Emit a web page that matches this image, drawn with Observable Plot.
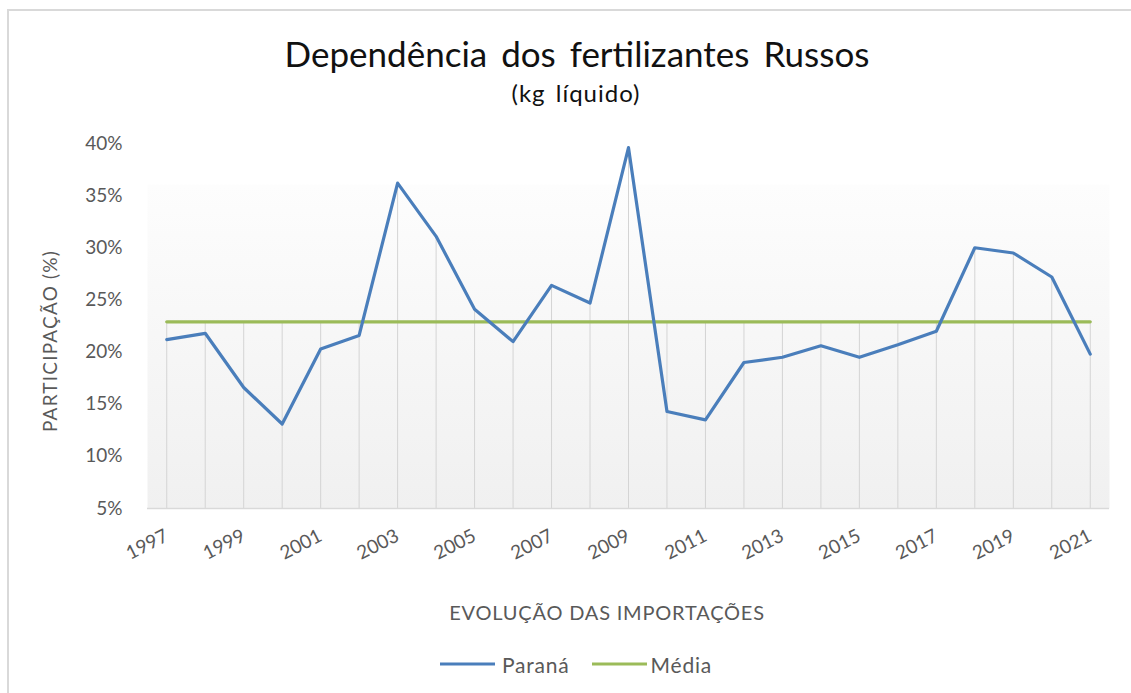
<!DOCTYPE html>
<html>
<head>
<meta charset="utf-8">
<script src="https://cdn.jsdelivr.net/npm/d3@7"></script>
<script src="https://cdn.jsdelivr.net/npm/@observablehq/plot@0.6"></script>
<style>
  html, body { margin: 0; padding: 0; background: #fff; }
  #page { position: relative; width: 1131px; height: 693px; overflow: hidden; font-family: Lato, "Noto Sans", sans-serif; }
  #border { position: absolute; left: 7px; top: 9px; width: 1140px; height: 700px; border: 2px solid #d9d9d9; box-sizing: border-box; }
  .t { position: absolute; white-space: nowrap; line-height: 1; }
  #title { left: 577px; transform: translateX(-50%); top: 36px; font-size: 35px; color: #111; word-spacing: 5px; }
  #subtitle { left: 576px; transform: translateX(-50%); top: 81px; font-size: 24px; color: #111; letter-spacing: 1px; word-spacing: 3px; }
  #ytitle { left: 49px; top: 341px; transform: translate(-50%, -50%) rotate(-90deg); font-size: 19px; color: #595959; letter-spacing: 1.2px; }
  #xtitle { left: 607px; top: 612px; transform: translate(-50%, -50%); font-size: 20px; color: #595959; letter-spacing: 0.8px; }
  #chart { position: absolute; left: 0; top: 125px; }
  #legend { position: absolute; top: 664px; left: 440px; transform: translateY(-50%); display: flex; align-items: center; font-size: 21px; color: #595959; letter-spacing: 0.8px; }
  .sw { display: inline-block; width: 55px; height: 3px; margin-right: 7px; }
</style>
</head>
<body>
<div id="page">
  <div id="border"></div>
  <div class="t" id="title">Dependência dos fertilizantes Russos</div>
  <div class="t" id="subtitle">(kg líquido)</div>
  <div class="t" id="ytitle">PARTICIPAÇÃO (%)</div>
  <div id="chart"></div>
  <div class="t" id="xtitle">EVOLUÇÃO DAS IMPORTAÇÕES</div>
  <div id="legend">
    <span class="sw" style="background:#4a7ebb"></span><span>Paraná</span>
    <span class="sw" style="background:#9bbb59; margin-left:22px; margin-right:4px"></span><span>Média</span>
  </div>
</div>
<script>
const years = [1997,1998,1999,2000,2001,2002,2003,2004,2005,2006,2007,2008,2009,2010,2011,2012,2013,2014,2015,2016,2017,2018,2019,2020,2021];
const parana = [21.2,21.8,16.6,13.1,20.3,21.6,36.2,31.1,24.1,21.0,26.4,24.7,39.6,14.3,13.5,19.0,19.5,20.6,19.5,20.7,22.0,30.0,29.5,27.2,19.8];
const media = [22.9,22.9,22.9,22.9,22.9,22.9,22.9,22.9,22.9,22.9,22.9,22.9,22.9,22.9,22.9,22.9,22.9,22.9,22.9,22.9,22.9,22.9,22.9,22.9,22.9];
const yTicks = [5,10,15,20,25,30,35,40];
const xTicks = [1997,1999,2001,2003,2005,2007,2009,2011,2013,2015,2017,2019,2021];

const rows = years.map((y, i) => ({year: y, parana: parana[i], media: media[i]}));

const chart = Plot.plot({
  width: 1131,
  height: 455,
  marginTop: 18,
  marginBottom: 72,
  marginLeft: 147,
  marginRight: 22,
  style: {fontFamily: "Lato, 'Noto Sans', sans-serif", fontSize: "19px", color: "#595959", overflow: "visible", background: "transparent"},
  x: {domain: [1996.5, 2021.5]},
  y: {domain: [5, 40]},
  marks: [
    Plot.frame({fill: "url(#bgGrad)", stroke: null}),
    Plot.ruleX(rows, {x: "year", y1: 5, y2: d => Math.max(d.parana, d.media), stroke: "#d4d4d4", strokeWidth: 1}),
    Plot.ruleY([5], {stroke: "#d9d9d9", strokeWidth: 1.5}),
    Plot.axisY({ticks: yTicks, tickFormat: d => d + "%", tickSize: 0, tickPadding: 25, label: null, fill: "#595959"}),
    Plot.axisX({ticks: xTicks, tickFormat: d => String(d), tickSize: 0, tickPadding: 26, tickRotate: -27, label: null, fill: "#595959"}),
    Plot.line(rows, {x: "year", y: "media", stroke: "#9bbb59", strokeWidth: 3.2}),
    Plot.line(rows, {x: "year", y: "parana", stroke: "#4a7ebb", strokeWidth: 3.2, strokeLinejoin: "round"})
  ]
});

d3.select(chart).insert("defs", ":first-child").html(
  '<linearGradient id="bgGrad" x1="0" y1="0" x2="0" y2="1">' +
  '<stop offset="0" stop-color="#ffffff"/>' +
  '<stop offset="0.11" stop-color="#ffffff"/>' +
  '<stop offset="0.115" stop-color="#fdfdfd"/>' +
  '<stop offset="1" stop-color="#f0f0f0"/>' +
  '</linearGradient>'
);

document.getElementById("chart").appendChild(chart);
</script>
</body>
</html>
